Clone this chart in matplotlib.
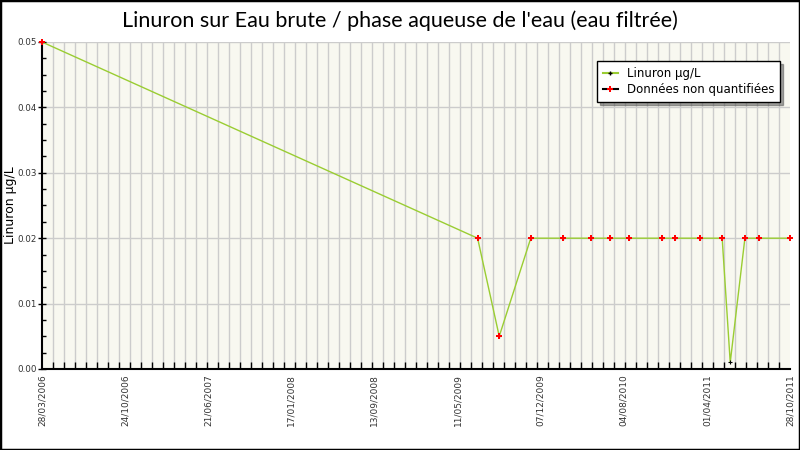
import numpy as np
import pandas as pd
import matplotlib
matplotlib.use("Agg")
import matplotlib.pyplot as plt
import matplotlib.dates as mdates
from matplotlib.lines import Line2D
from matplotlib.patches import Rectangle

# données
dates = ["2006-03-28", "2009-06-28", "2009-08-26", "2009-11-20", "2010-02-16",
         "2010-05-04", "2010-06-25", "2010-08-16", "2010-11-14", "2010-12-19",
         "2011-02-25", "2011-04-26", "2011-05-18", "2011-06-27", "2011-08-05",
         "2011-10-28"]
valeurs = [0.05, 0.02, 0.005, 0.02, 0.02, 0.02, 0.02, 0.02, 0.02, 0.02,
           0.02, 0.02, 0.001, 0.02, 0.02, 0.02]
non_quantifie = [True, True, True, True, True, True, True, True, True, True,
                 True, True, False, True, True, True]
x_labels = ["28/03/2006", "24/10/2006", "21/06/2007", "17/01/2008", "13/09/2008",
            "11/05/2009", "07/12/2009", "04/08/2010", "01/04/2011", "28/10/2011"]
y_ticks = [0.0, 0.01, 0.02, 0.03, 0.04, 0.05]

plt.rcParams['font.family'] = ['DejaVu Sans']

x = pd.to_datetime(dates)
xn = mdates.date2num(x)
v = np.array(valeurs)
nq = np.array(non_quantifie)

fig = plt.figure(figsize=(8, 4.5), dpi=100)
fig.patches.append(Rectangle((0, 0), 1, 1, transform=fig.transFigure, fill=False,
                             edgecolor='black', linewidth=2.5, zorder=10))
ax = fig.add_axes([0.0525, 0.18, 0.935, 0.7267])
ax.set_facecolor('#f8f8f0')

x0 = mdates.date2num(pd.Timestamp("2006-03-28"))
x1 = mdates.date2num(pd.Timestamp("2011-10-28"))
ax.set_xlim(x0, x1)
ax.set_ylim(0, 0.05)

ax.plot(xn, v, color='#9acd32', linewidth=1, zorder=3)
ax.plot(xn, v, linestyle='none', marker='+', color='black', markersize=3,
        markeredgewidth=0.8, zorder=4)
ax.plot(xn[nq], v[nq], linestyle='none', marker='P', color='red',
        markersize=5, markeredgewidth=0, zorder=5, clip_on=False)

# grille verticale tous les 30 jours
minor = np.arange(x0, x1 + 1, 30)
ax.set_xticks(minor, minor=True)
ax.set_xticks(np.linspace(x0, x1, len(x_labels)))
ax.set_xticklabels(x_labels, rotation=90, fontsize=6.5, color='#333333')
ax.grid(True, which='minor', axis='x', color='#cccccc', linewidth=1)
ax.set_yticks(y_ticks)
ax.set_yticklabels([f"{t:.2f}" for t in y_ticks], fontsize=6.3, color='#333333')
ax.set_yticks(np.arange(0, 0.0501, 0.0025), minor=True)
ax.grid(True, which='major', axis='y', color='#cccccc', linewidth=1)
ax.set_axisbelow(True)

ax.tick_params(axis='x', which='minor', direction='in', length=5, width=1)
ax.tick_params(axis='x', which='major', length=0, pad=4)
ax.tick_params(axis='y', which='major', direction='inout', length=6, width=1, pad=1)
ax.tick_params(axis='y', which='minor', direction='in', length=3, width=1)
for s in ['top', 'right']:
    ax.spines[s].set_visible(False)
for s in ['left', 'bottom']:
    ax.spines[s].set_linewidth(1.5)

ax.set_ylabel("Linuron µg/L", fontsize=9)
ax.yaxis.set_label_coords(-0.033, 0.5)
fig.text(0.5, 0.955, "Linuron sur Eau brute / phase aqueuse de l'eau (eau filtrée)",
         ha='center', va='center', fontsize=15.5, family=['Lato', 'DejaVu Sans'],
         fontweight='normal')

handles = [Line2D([], [], color='#9acd32', marker='+', markeredgecolor='black',
                  markersize=3),
           Line2D([], [], color='black', marker='P', markerfacecolor='red',
                  markeredgewidth=0, markersize=5)]
leg = ax.legend(handles, ["Linuron µg/L", "Données non quantifiées"],
                loc='upper right', bbox_to_anchor=(0.995, 0.96), fontsize=8.5,
                fancybox=False, edgecolor='black', framealpha=1, handlelength=1.2,
                borderpad=0.5, labelspacing=0.3, shadow=True)
leg.get_frame().set_linewidth(1)

fig.savefig("out.png", dpi=100)
